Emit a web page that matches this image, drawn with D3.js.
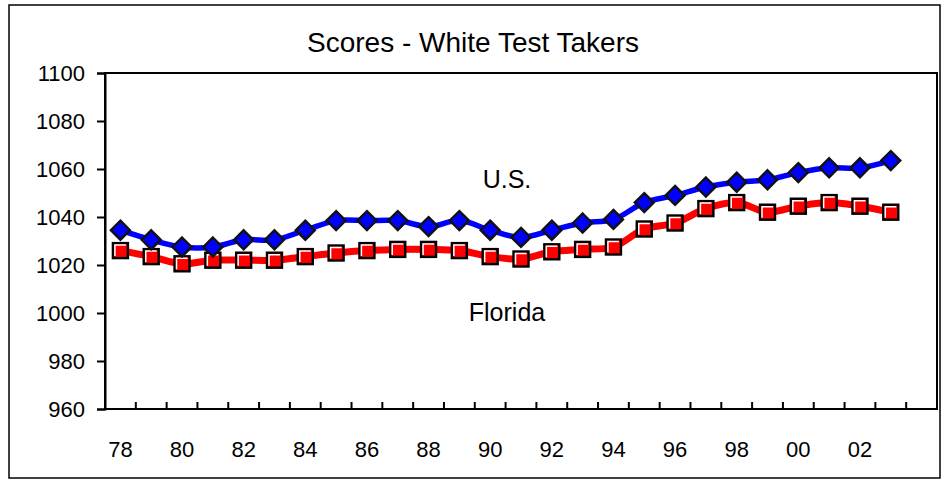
<!DOCTYPE html>
<html><head><meta charset="utf-8">
<script src="https://cdn.jsdelivr.net/npm/d3@7"></script>
<style>body{margin:0;background:#fff}svg{display:block}text{font-family:Arial,"Liberation Sans",sans-serif}</style>
</head><body>
<script>
const categories = ["78","79","80","81","82","83","84","85","86","87","88","89","90","91","92","93","94","95","96","97","98","99","00","01","02","03",""];
const tickLabels = ["78","80","82","84","86","88","90","92","94","96","98","00","02"];
const usValues = [1034.5,1030.5,1027.5,1027.5,1030.5,1030.5,1034.5,1038.5,1038.5,1038.5,1036,1038.5,1034.5,1031.5,1034.5,1037.5,1039,1046,1049,1052.5,1054.5,1055.5,1058.5,1060.5,1060.5,1063.5];
const flValues = [1026,1023.5,1020.5,1022,1022,1022,1023.5,1025,1026,1026.5,1026.5,1026,1023.5,1022.5,1025.5,1026.5,1027.5,1035,1037.5,1043.5,1046,1042,1044.5,1046,1044.5,1042];
const yTicks = [960,980,1000,1020,1040,1060,1080,1100];
const title = "Scores - White Test Takers";

const W = 942, H = 481;
const L = 105, R = 937, T = 73, B = 409;
const svg = d3.select("body").append("svg").attr("width", W).attr("height", H);

svg.append("rect").attr("x",9).attr("y",5).attr("width",931).attr("height",473)
  .attr("fill","#fff").attr("stroke","#000").attr("stroke-width",1.5);

const x = d3.scaleBand().domain(categories).range([L, R]).padding(0);
const y = d3.scaleLinear().domain([960,1100]).range([B, T]);

svg.append("rect").attr("x",L).attr("y",T).attr("width",R-L).attr("height",B-T)
  .attr("fill","none").attr("stroke","#000").attr("stroke-width",2);

const yAxis = svg.append("g").attr("transform",`translate(${L},0)`)
  .call(d3.axisLeft(y).tickValues(yTicks).tickSize(8).tickPadding(12).tickFormat(d3.format("d")));
yAxis.select(".domain").attr("stroke-width",2);
yAxis.selectAll(".tick line").attr("stroke-width",2);
yAxis.selectAll("text").attr("font-size",22).attr("fill","#000");

const bounds = categories.map(c => x(c)).concat([R]).slice(1);
svg.append("g").selectAll("line").data(bounds).join("line")
  .attr("x1",d=>d).attr("x2",d=>d).attr("y1",B).attr("y2",B-7)
  .attr("stroke","#000").attr("stroke-width",2);
svg.append("line").attr("x1",L).attr("x2",R).attr("y1",B).attr("y2",B).attr("stroke","#000").attr("stroke-width",2);
svg.append("g").selectAll("text").data(tickLabels).join("text")
  .attr("x",d=>x(d)+x.bandwidth()/2).attr("y",B+48)
  .attr("text-anchor","middle").attr("font-size",22).text(d=>d);

svg.append("text").attr("x",473).attr("y",52).attr("text-anchor","middle")
  .attr("font-size",28).text(title);

const cx = (d,i) => x(categories[i]) + x.bandwidth()/2;
const line = d3.line().x(cx).y(d=>y(d)).curve(d3.curveCatmullRom.alpha(0.5));

svg.append("path").attr("d", line(usValues)).attr("fill","none").attr("stroke","#0000ff").attr("stroke-width",5.5);
svg.append("path").attr("d", line(flValues)).attr("fill","none").attr("stroke","#ff0000").attr("stroke-width",7);

const s = 15;
const sq = svg.append("g").selectAll("g").data(flValues).join("g")
  .attr("transform",(d,i)=>`translate(${cx(d,i)},${y(d)})`);
sq.append("rect").attr("x",-s/2).attr("y",-s/2).attr("width",s).attr("height",s)
  .attr("fill","#ff0000").attr("stroke","#000").attr("stroke-width",2.4);
sq.append("path").attr("d",`M${-s/2+2},${s/2-2}V${-s/2+2}H${s/2-2}`)
  .attr("fill","none").attr("stroke","#fff").attr("stroke-width",1.5);

const r = 9.5;
svg.append("g").selectAll("path").data(usValues).join("path")
  .attr("transform",(d,i)=>`translate(${cx(d,i)},${y(d)})`)
  .attr("d",`M0,${-r}L${r},0L0,${r}L${-r},0Z`)
  .attr("fill","#0000ff").attr("stroke","#111").attr("stroke-width",2.4);

svg.append("text").attr("x",507).attr("y",188).attr("text-anchor","middle").attr("font-size",25).text("U.S.");
svg.append("text").attr("x",507).attr("y",321).attr("text-anchor","middle").attr("font-size",25).text("Florida");
</script>
</body></html>
